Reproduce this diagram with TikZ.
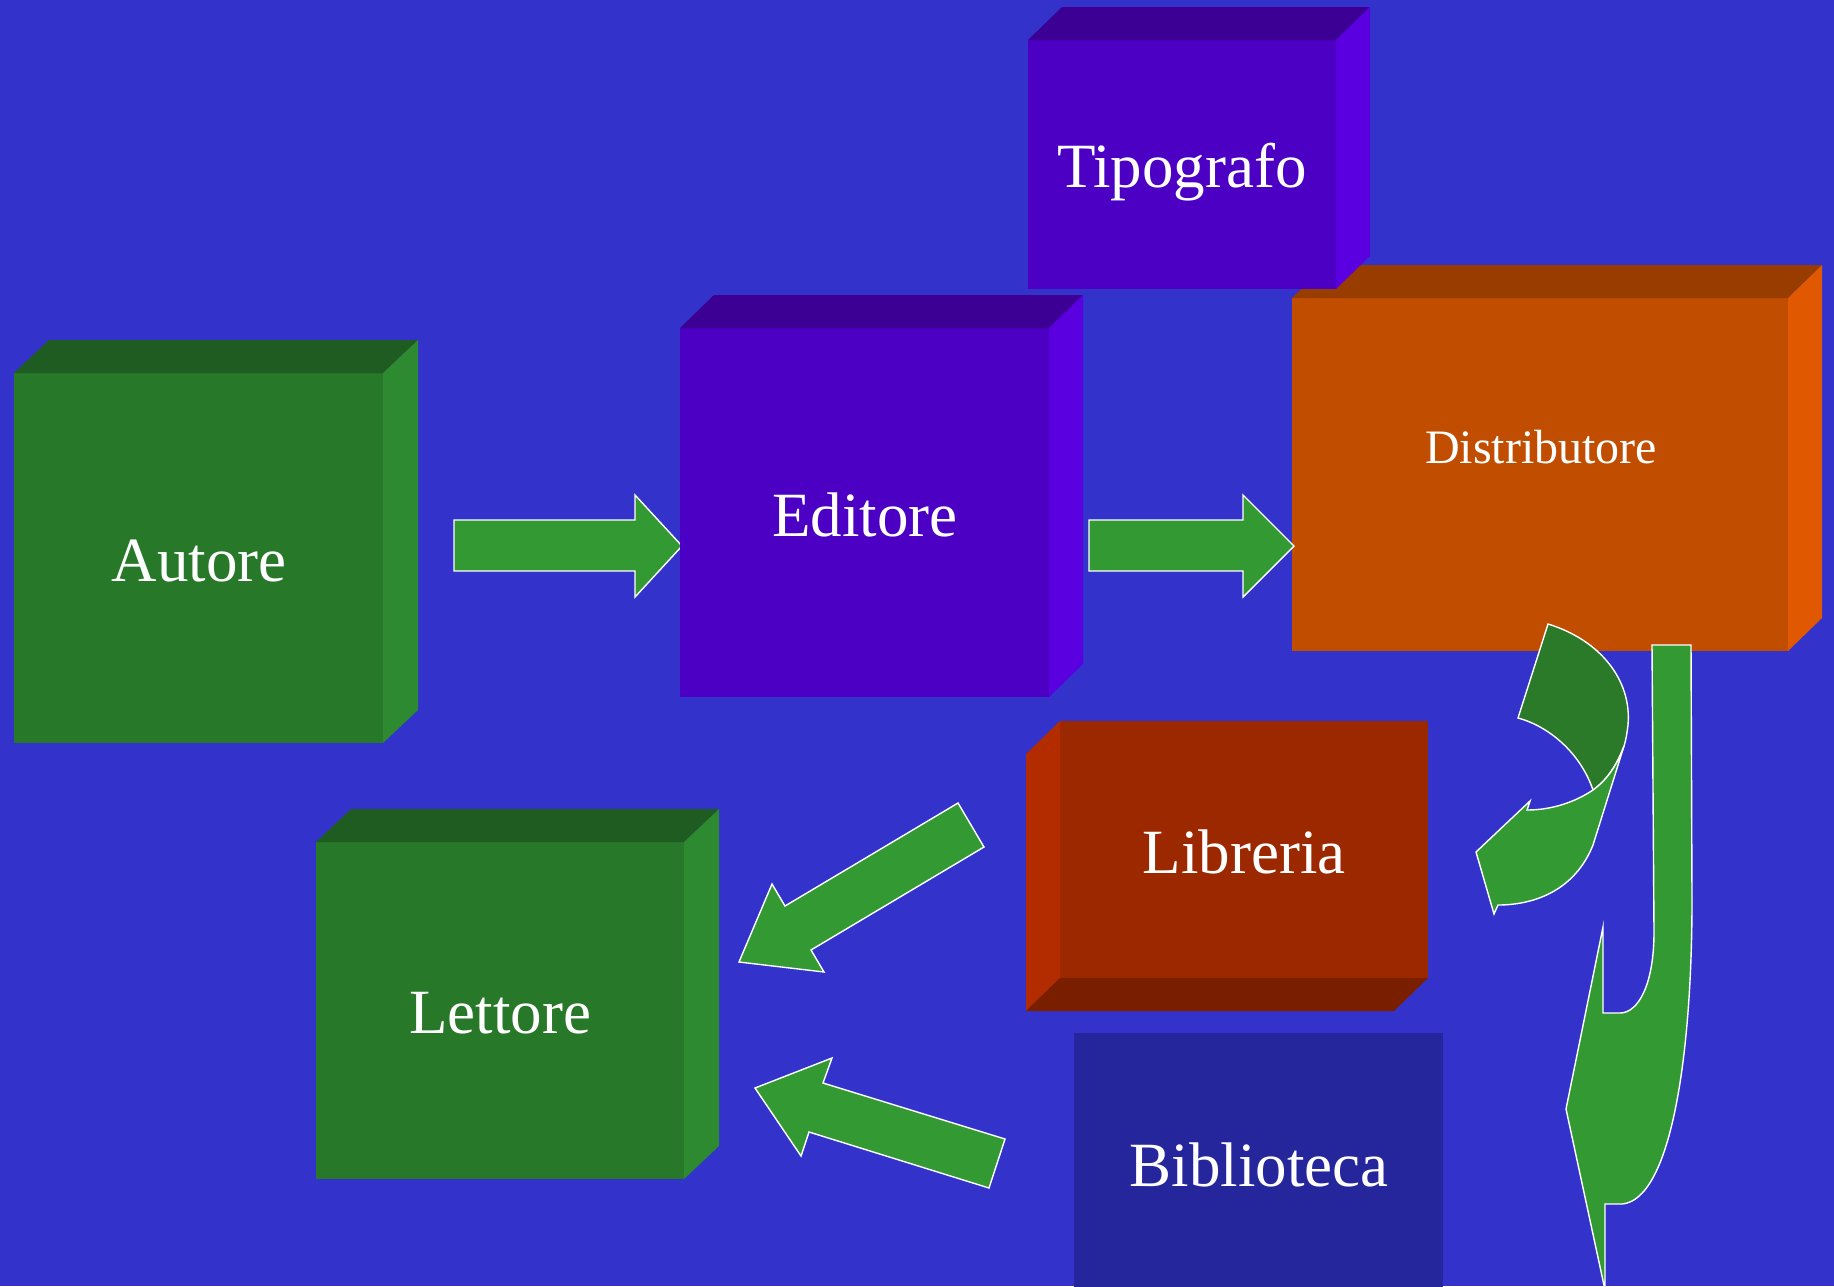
\documentclass[tikz,border=0pt]{standalone}
\usepackage{fontspec}
\setmainfont{Liberation Serif}
\definecolor{bg}{HTML}{3333CC}
\definecolor{gfront}{HTML}{28782A}
\definecolor{gtop}{HTML}{1F5C21}
\definecolor{gside}{HTML}{2E8A30}
\definecolor{pfront}{HTML}{4C00C4}
\definecolor{ptop}{HTML}{3C0094}
\definecolor{pside}{HTML}{5A00E0}
\definecolor{ofront}{HTML}{C14E00}
\definecolor{otop}{HTML}{983C00}
\definecolor{oside}{HTML}{E05800}
\definecolor{rfront}{HTML}{9C2800}
\definecolor{rside}{HTML}{B22C00}
\definecolor{rbottom}{HTML}{7A1E00}
\definecolor{bblue}{HTML}{26269C}
\definecolor{agreen}{HTML}{339933}
\definecolor{adark}{HTML}{2A7A2A}
\tikzset{
  boxfront/.style={anchor=north west, inner sep=0pt, outer sep=0pt, draw=none},
  lbl/.style={anchor=base, text=white, inner sep=0pt, font=\fontsize{63}{70}\selectfont},
  lblsmall/.style={anchor=base, text=white, inner sep=0pt, font=\fontsize{48}{56}\selectfont},
  blockarrow/.style={fill=agreen, draw=white, line width=1.4pt, line join=miter},
  darkribbon/.style={fill=adark, draw=white, line width=1.4pt, line join=miter},
}
\begin{document}
\begin{tikzpicture}[x=1pt,y=-1pt]
\useasboundingbox (0,0) rectangle (1834,1286);
\fill[bg] (0,0) rectangle (1834,1286);

% Autore
\node[boxfront, fill=gfront, minimum width=369pt, minimum height=370pt] (autore) at (14,373) {};
\fill[gtop] (autore.north west) -- ++(35,-33) -- ([shift={(35,-33)}]autore.north east) -- (autore.north east) -- cycle;
\fill[gside] (autore.north east) -- ++(35,-33) -- ([shift={(35,-33)}]autore.south east) -- (autore.south east) -- cycle;
\node[lbl] (autoreL) at (199,581) {Autore};

% arrow Autore -> Editore
\draw[blockarrow] (454,520) coordinate (a1t) -- (635,520) -- (635,495) -- (682,546) coordinate (a1h) -- (635,597) -- (635,571) -- (454,571) -- cycle;

% Editore
\node[boxfront, fill=pfront, minimum width=369pt, minimum height=369pt] (editore) at (680,328) {};
\fill[ptop] (editore.north west) -- ++(34,-33) -- ([shift={(34,-33)}]editore.north east) -- (editore.north east) -- cycle;
\fill[pside] (editore.north east) -- ++(34,-33) -- ([shift={(34,-33)}]editore.south east) -- (editore.south east) -- cycle;
\node[lbl] (editoreL) at (865,536) {Editore};

% Distributore
\node[boxfront, fill=ofront, minimum width=496pt, minimum height=353pt] (distributore) at (1292,298) {};
\fill[otop] (distributore.north west) -- ++(34,-33) -- ([shift={(34,-33)}]distributore.north east) -- (distributore.north east) -- cycle;
\fill[oside] (distributore.north east) -- ++(34,-33) -- ([shift={(34,-33)}]distributore.south east) -- (distributore.south east) -- cycle;
\node[lblsmall] (distributoreL) at (1541,463) {Distributore};

% Tipografo
\node[boxfront, fill=pfront, minimum width=308pt, minimum height=249pt] (tipografo) at (1028,40) {};
\fill[ptop] (tipografo.north west) -- ++(34,-33) -- ([shift={(34,-33)}]tipografo.north east) -- (tipografo.north east) -- cycle;
\fill[pside] (tipografo.north east) -- ++(34,-33) -- ([shift={(34,-33)}]tipografo.south east) -- (tipografo.south east) -- cycle;
\node[lbl] (tipografoL) at (1182,187) {Tipografo};

% arrow Editore -> Distributore
\draw[blockarrow] (1089,520) coordinate (a2t) -- (1243,520) -- (1243,495) -- (1294,546) coordinate (a2h) -- (1243,597) -- (1243,571) -- (1089,571) -- cycle;

% Libreria
\node[boxfront, fill=rfront, minimum width=368pt, minimum height=257pt] (libreria) at (1060,721) {};
\fill[rside] (libreria.north west) -- ++(-34,33) -- ([shift={(-34,33)}]libreria.south west) -- (libreria.south west) -- cycle;
\fill[rbottom] (libreria.south west) -- ++(-34,33) -- ([shift={(-34,33)}]libreria.south east) -- (libreria.south east) -- cycle;
\node[lbl] (libreriaL) at (1244,873) {Libreria};

% Biblioteca
\node[boxfront, fill=bblue, minimum width=369pt, minimum height=270pt] (biblioteca) at (1074,1033) {};
\node[lbl] (bibliotecaL) at (1259,1186) {Biblioteca};

% Lettore
\node[boxfront, fill=gfront, minimum width=368pt, minimum height=337pt] (lettore) at (316,842) {};
\fill[gtop] (lettore.north west) -- ++(35,-33) -- ([shift={(35,-33)}]lettore.north east) -- (lettore.north east) -- cycle;
\fill[gside] (lettore.north east) -- ++(35,-33) -- ([shift={(35,-33)}]lettore.south east) -- (lettore.south east) -- cycle;
\node[lbl] (lettoreL) at (500,1033) {Lettore};

% arrow Libreria -> Lettore
\draw[blockarrow] (958,803) coordinate (a3t) -- (984,847) -- (811,950) -- (824,972) -- (739,962) coordinate (a3h) -- (772,884) -- (785,906) -- cycle;

% arrow Biblioteca -> Lettore
\draw[blockarrow] (1005,1139) coordinate (a4t) -- (989,1188) -- (809,1132) -- (801,1156) -- (755,1088) coordinate (a4h) -- (832,1058) -- (823,1083) -- cycle;

% U-turn ribbon arrow Distributore -> Libreria (back face)
\draw[darkribbon] (1548,624) .. controls (1600,640) and (1632,680) .. (1628,725)
  .. controls (1627,733) and (1626,740) .. (1624,746)
  .. controls (1617,765) and (1607,780) .. (1593,790)
  .. controls (1580,752) and (1548,726) .. (1518,718) -- cycle;
% front face with head
\draw[blockarrow] (1527,810) .. controls (1552,810) and (1575,802) .. (1593,790)
  .. controls (1607,780) and (1617,765) .. (1624,746)
  -- (1593,845)
  .. controls (1575,890) and (1535,905) .. (1498,905)
  -- (1494,914) -- (1476,852) -- (1530,801) -- cycle;

% long J arrow Distributore -> down
\draw[blockarrow] (1652,645) -- (1654,932)
  .. controls (1654,985) and (1638,1013) .. (1620,1013)
  -- (1603,1013) -- (1603,927) -- (1566,1109) -- (1605,1290) -- (1605,1204) -- (1622,1204)
  .. controls (1670,1200) and (1692,1060) .. (1692,900)
  -- (1691,645) -- cycle;
\end{tikzpicture}
\end{document}
